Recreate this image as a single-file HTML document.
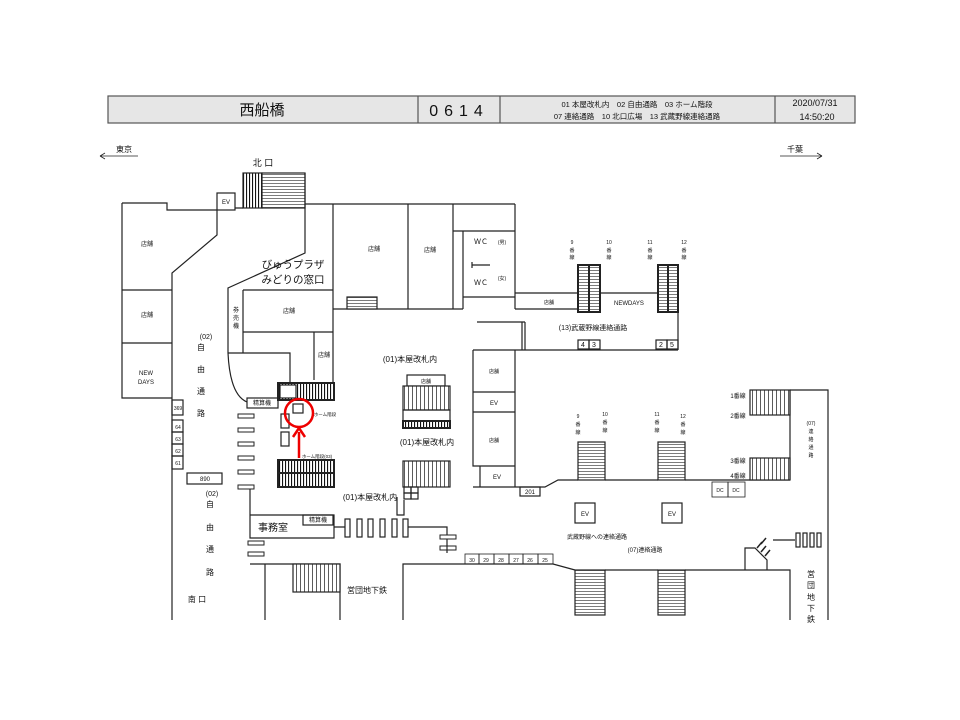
<!DOCTYPE html>
<html><head><meta charset="utf-8"><style>
html,body{margin:0;padding:0;background:#fff;}
svg{display:block;font-family:"Liberation Sans","Noto Sans CJK JP",sans-serif;}
</style></head><body>
<svg width="960" height="720" viewBox="0 0 960 720" xmlns="http://www.w3.org/2000/svg">
<defs>
<pattern id="vs" width="4" height="4" patternUnits="userSpaceOnUse"><rect width="4" height="4" fill="#fff"/><line x1="0.5" y1="0" x2="0.5" y2="4" stroke="#333" stroke-width="0.8"/></pattern>
<pattern id="hs" width="4" height="3" patternUnits="userSpaceOnUse"><rect width="4" height="3" fill="#fff"/><line x1="0" y1="0.5" x2="4" y2="0.5" stroke="#444" stroke-width="0.7"/></pattern>
<pattern id="vb" width="3" height="4" patternUnits="userSpaceOnUse"><rect width="3" height="4" fill="#fff"/><line x1="0.5" y1="0" x2="0.5" y2="4" stroke="#111" stroke-width="1.2"/></pattern>
</defs>
<g fill="none" stroke="#222" stroke-width="1.2">
<!-- header -->
<rect x="108" y="96" width="747" height="27" fill="#e6e6e6" stroke="#555"/>
<line x1="418" y1="96" x2="418" y2="123" stroke="#555"/>
<line x1="500" y1="96" x2="500" y2="123" stroke="#555"/>
<line x1="775" y1="96" x2="775" y2="123" stroke="#555"/>
<!-- direction arrows -->
<path d="M100 156 H138 M100 156 l5 -3 M100 156 l5 3" stroke-width="0.8"/>
<path d="M780 156 H822 M822 156 l-5 -3 M822 156 l-5 3" stroke-width="0.8"/>

<!-- north stairs -->
<rect x="243" y="173" width="19" height="35" fill="url(#vb)"/>
<rect x="262" y="173" width="43" height="35" fill="url(#hs)"/>
<rect x="217" y="193" width="18" height="17" fill="#fff"/>
<!-- left outer wall -->
<path d="M122 203 H167 V210 H217 M235 208 H243"/>
<path d="M217 210 V235 L172 273 V620"/>
<path d="M122 203 V398 H172"/>
<line x1="122" y1="290" x2="172" y2="290"/>
<line x1="122" y1="343" x2="172" y2="343"/>
<!-- number boxes -->
<rect x="172" y="400" width="11" height="15"/>
<rect x="172" y="420" width="11" height="12"/>
<rect x="172" y="432" width="11" height="12"/>
<rect x="172" y="444" width="11" height="12"/>
<rect x="172" y="456" width="11" height="13"/>
<rect x="187" y="473" width="35" height="11"/>
<!-- central-left wall -->
<path d="M305 173 V253 L228 288 V353 Q230 395 247 402"/>
<line x1="305" y1="204" x2="515" y2="204"/>
<line x1="333" y1="204" x2="333" y2="387"/>
<path d="M243 290 H333 M243 290 V353 M228 353 H290 V390 M243 332 H333 M314 332 V380"/>
<!-- shops top -->
<path d="M333 309 H453 M408 204 V309 M453 204 V309 M515 204 V309 M453 231 H515 M463 231 V309 M463 297 H515 M453 309 H463 M472 262 V268 M472 265 H490"/>
<rect x="347" y="297" width="30" height="12" fill="url(#hs)"/>
<!-- 13 corridor -->
<path d="M515 293 H578 M515 309 H578 M600 293 H658"/>
<rect x="578" y="265" width="11" height="47" fill="url(#hs)" stroke-width="2"/>
<rect x="589" y="265" width="11" height="47" fill="url(#hs)" stroke-width="2"/>
<rect x="658" y="265" width="10" height="47" fill="url(#hs)" stroke-width="2"/>
<rect x="668" y="265" width="10" height="47" fill="url(#hs)" stroke-width="2"/>
<path d="M678 312 V350 M477 322 H525 M522 322 V350 M525 322 V350 M515 350 H678"/>
<rect x="578" y="340" width="11" height="9"/><rect x="589" y="340" width="11" height="9"/>
<rect x="656" y="340" width="11" height="9"/><rect x="667" y="340" width="11" height="9"/>
<!-- pillar block -->
<path d="M515 350 V487 M473 350 H515 M473 350 V466 H515 M473 392 H515 M473 412 H515 M480 466 V487"/>
<path d="M473 487 H545 L558 480 H578 M605 480 H658 M685 480 H790"/>
<rect x="520" y="487" width="20" height="9"/>
<rect x="578" y="442" width="27" height="38" fill="url(#hs)"/>
<rect x="658" y="442" width="27" height="38" fill="url(#hs)"/>
<!-- right stairs 1-4 -->
<rect x="750" y="390" width="40" height="25" fill="url(#vs)"/>
<rect x="750" y="458" width="40" height="22" fill="url(#vs)"/>
<path d="M790 390 V415 M790 458 V480 M790 415 V458 M790 390 H828 V620"/>
<rect x="712" y="482" width="16" height="15" stroke-width="0.8"/><rect x="728" y="482" width="17" height="15" stroke-width="0.8"/>
<rect x="575" y="503" width="20" height="20"/><rect x="662" y="503" width="20" height="20"/>
<!-- bottom right -->
<path d="M403 620 V564 H553 L575 570 M605 570 H658 M685 570 H790 V620 M745 570 V548 H755 L767 560 V570"/>
<rect x="575" y="570" width="30" height="45" fill="url(#hs)"/>
<rect x="658" y="570" width="27" height="45" fill="url(#hs)"/>
<path d="M757 548 l5 -6 M761 552 l5 -6 M765 556 l5 -6 M761 544 l5 -6" stroke-width="1.5"/>
<path d="M773 540 H795"/>
<rect x="796" y="533" width="4" height="14"/><rect x="803" y="533" width="4" height="14"/><rect x="810" y="533" width="4" height="14"/><rect x="817" y="533" width="4" height="14"/>
<g stroke-width="0.8">
<rect x="465" y="554" width="14" height="10"/><rect x="479" y="554" width="15" height="10"/><rect x="494" y="554" width="15" height="10"/><rect x="509" y="554" width="14" height="10"/><rect x="523" y="554" width="15" height="10"/><rect x="538" y="554" width="15" height="10"/>
</g>
<!-- middle stairs -->
<rect x="407" y="375" width="38" height="11"/>
<rect x="403" y="386" width="47" height="24" fill="url(#vs)"/>
<rect x="403" y="410" width="47" height="11"/>
<rect x="403" y="421" width="47" height="7" fill="url(#vb)" stroke-width="2"/>
<rect x="403" y="461" width="47" height="26" fill="url(#vs)"/>
<rect x="404" y="487" width="7" height="6"/><rect x="411" y="487" width="7" height="6"/>
<rect x="404" y="493" width="7" height="6"/><rect x="411" y="493" width="7" height="6"/>
<path d="M397 497 V515 H404 V500"/>
<!-- left stairs near circle -->
<rect x="278" y="383" width="56" height="17" fill="url(#vb)" stroke-width="2"/>
<rect x="280" y="385" width="16" height="13" fill="#fff"/>
<rect x="247" y="398" width="31" height="10"/>
<rect x="293" y="404" width="10" height="9"/>
<rect x="281" y="414" width="8" height="14"/><rect x="281" y="432" width="8" height="14"/>
<rect x="278" y="460" width="56" height="27" fill="url(#vb)" stroke-width="2"/>
<line x1="278" y1="473" x2="334" y2="473" stroke-width="2"/>
<!-- bars -->
<g stroke-width="1">
<rect x="238" y="414" width="16" height="4"/><rect x="238" y="428" width="16" height="4"/><rect x="238" y="442" width="16" height="4"/><rect x="238" y="456" width="16" height="4"/><rect x="238" y="470" width="16" height="4"/><rect x="238" y="485" width="16" height="4"/>
<rect x="248" y="541" width="16" height="4"/><rect x="248" y="552" width="16" height="4"/>
<rect x="440" y="535" width="16" height="4"/><rect x="440" y="546" width="16" height="4"/>
</g>
<!-- office & gates -->
<path d="M250 489 V515 H334 V538 H250 V515"/>
<rect x="303" y="515" width="30" height="10"/>
<path d="M334 527 H345 M408 527 H447 V535 M447 539 V553"/>
<rect x="345" y="519" width="5" height="18"/><rect x="357" y="519" width="5" height="18"/><rect x="368" y="519" width="5" height="18"/><rect x="380" y="519" width="5" height="18"/><rect x="392" y="519" width="5" height="18"/><rect x="403" y="519" width="5" height="18"/>
<!-- bottom left -->
<path d="M250 564 H340 V620 M265 564 V620"/>
<rect x="293" y="564" width="47" height="28" fill="url(#vs)"/>
</g>
<!-- red marker -->
<circle cx="299" cy="413" r="14" fill="none" stroke="#e00" stroke-width="2.5"/>
<path d="M299 458 V432" stroke="#e00" stroke-width="2.5"/>
<path d="M293 437 L299 428 L305 437" fill="none" stroke="#e00" stroke-width="2.5"/>

<!-- texts -->
<g fill="#111" text-anchor="middle">
<text x="262" y="115" font-size="15">西船橋</text>
<text x="459" y="116" font-size="16" letter-spacing="6">0614</text>
<text x="637" y="107" font-size="7.5">01 本屋改札内　02 自由通路　03 ホーム階段</text>
<text x="637" y="119" font-size="7.5">07 連絡通路　10 北口広場　13 武蔵野線連絡通路</text>
<text x="815" y="106" font-size="9">2020/07/31</text>
<text x="817" y="120" font-size="9">14:50:20</text>
<text x="124" y="152" font-size="8">東京</text>
<text x="795" y="152" font-size="8">千葉</text>
<text x="263" y="166" font-size="9">北 口</text>
<text x="226" y="204" font-size="6">EV</text>
<text x="147" y="246" font-size="6">店舗</text>
<text x="147" y="317" font-size="6">店舗</text>
<text x="146" y="375" font-size="6">NEW</text>
<text x="146" y="384" font-size="6">DAYS</text>
<text x="374" y="251" font-size="6">店舗</text>
<text x="430" y="252" font-size="6">店舗</text>
<text x="293" y="268" font-size="10.5">びゅうプラザ</text>
<text x="293" y="283" font-size="10.5">みどりの窓口</text>
<text x="289" y="313" font-size="6">店舗</text>
<text x="324" y="357" font-size="6">店舗</text>
<text x="236" y="312" font-size="6">券</text><text x="236" y="320" font-size="6">売</text><text x="236" y="328" font-size="6">機</text>
<text x="481" y="244" font-size="7">ＷＣ</text><text x="502" y="244" font-size="5">(男)</text>
<text x="481" y="285" font-size="7">ＷＣ</text><text x="502" y="280" font-size="5">(女)</text>
<text x="549" y="304" font-size="5">店舗</text>
<text x="629" y="305" font-size="6">NEWDAYS</text>
<text x="593" y="330" font-size="7">(13)武蔵野線連絡通路</text>
<text x="583" y="347" font-size="7">4</text><text x="594" y="347" font-size="7">3</text>
<text x="661" y="347" font-size="7">2</text><text x="672" y="347" font-size="7">5</text>
<text x="410" y="362" font-size="8">(01)本屋改札内</text>
<text x="426" y="383" font-size="5">店舗</text>
<text x="427" y="445" font-size="8">(01)本屋改札内</text>
<text x="370" y="500" font-size="8">(01)本屋改札内</text>
<text x="206" y="339" font-size="7">(02)</text>
<g font-size="8"><text x="201" y="350">自</text><text x="201" y="372">由</text><text x="201" y="394">通</text><text x="201" y="416">路</text>
<text x="212" y="496" font-size="7">(02)</text>
<text x="210" y="507">自</text><text x="210" y="530">由</text><text x="210" y="552">通</text><text x="210" y="575">路</text>
<text x="197" y="602">南 口</text></g>
<text x="205" y="481" font-size="6">890</text>
<g font-size="5"><text x="178" y="410">369</text><text x="178" y="429">64</text><text x="178" y="441">63</text><text x="178" y="453">62</text><text x="178" y="465">61</text></g>
<text x="262" y="405" font-size="6">精算機</text>
<text x="318" y="522" font-size="6">精算機</text>
<text x="273" y="531" font-size="10">事務室</text>
<text x="325" y="416" font-size="4.5">ホーム階段</text>
<text x="317" y="458" font-size="4.5">ホーム階段(03)</text>
<text x="367" y="593" font-size="8">営団地下鉄</text>
<text x="494" y="373" font-size="5">店舗</text>
<text x="494" y="405" font-size="6">EV</text>
<text x="494" y="442" font-size="5">店舗</text>
<text x="497" y="479" font-size="6">EV</text>
<text x="530" y="494" font-size="6">201</text>
<g font-size="5"><text x="572" y="244">9</text><text x="572" y="252">番</text><text x="572" y="259">線</text>
<text x="609" y="244">10</text><text x="609" y="252">番</text><text x="609" y="259">線</text>
<text x="650" y="244">11</text><text x="650" y="252">番</text><text x="650" y="259">線</text>
<text x="684" y="244">12</text><text x="684" y="252">番</text><text x="684" y="259">線</text>
<text x="578" y="418">9</text><text x="578" y="426">番</text><text x="578" y="434">線</text>
<text x="605" y="416">10</text><text x="605" y="424">番</text><text x="605" y="432">線</text>
<text x="657" y="416">11</text><text x="657" y="424">番</text><text x="657" y="432">線</text>
<text x="683" y="418">12</text><text x="683" y="426">番</text><text x="683" y="434">線</text>
<text x="811" y="425">(07)</text><text x="811" y="433">連</text><text x="811" y="441">絡</text><text x="811" y="449">通</text><text x="811" y="457">路</text>
<text x="720" y="492">DC</text><text x="736" y="492">DC</text>
<text x="472" y="562">30</text><text x="486" y="562">29</text><text x="501" y="562">28</text><text x="516" y="562">27</text><text x="530" y="562">26</text><text x="545" y="562">25</text></g>
<g font-size="6"><text x="738" y="398">1番線</text><text x="738" y="418">2番線</text><text x="738" y="463">3番線</text><text x="738" y="478">4番線</text></g>
<text x="585" y="516" font-size="6">EV</text><text x="672" y="516" font-size="6">EV</text>
<text x="597" y="539" font-size="6">武蔵野線への連絡通路</text>
<text x="645" y="552" font-size="6">(07)連絡通路</text>
<g font-size="8"><text x="811" y="577">営</text><text x="811" y="588">団</text><text x="811" y="600">地</text><text x="811" y="611">下</text><text x="811" y="622">鉄</text></g>
</g>
</svg>
</body></html>
